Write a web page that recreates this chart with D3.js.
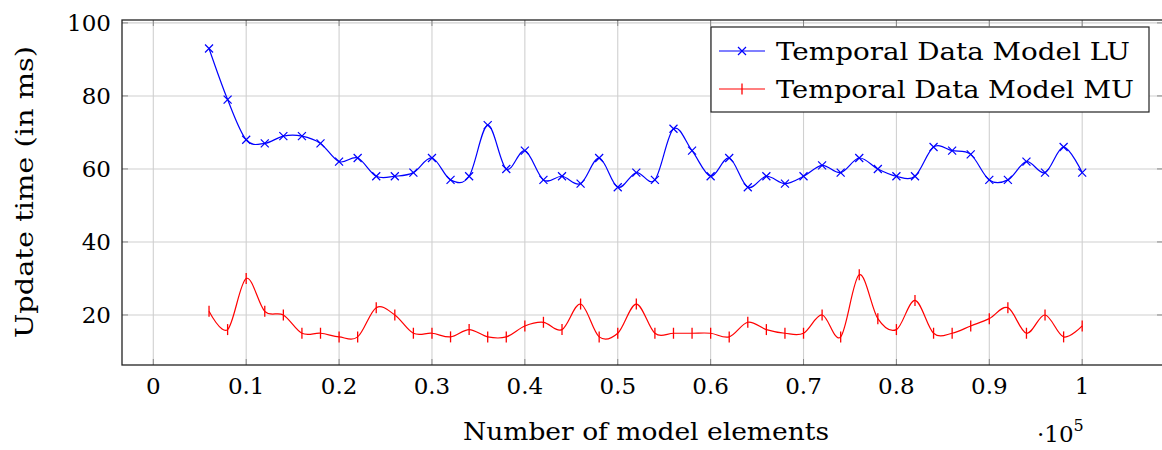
<!DOCTYPE html>
<html><head><meta charset="utf-8">
<script src="https://cdn.jsdelivr.net/npm/d3@7"></script>
<style>body{margin:0;background:#fff}svg{display:block}text{font-family:"DejaVu Serif","Liberation Serif",serif;fill:#000}</style>
</head><body>
<svg id="c" width="1162" height="450"></svg>
<script>
const xValues = [0.06,0.08,0.10,0.12,0.14,0.16,0.18,0.20,0.22,0.24,0.26,0.28,0.30,0.32,0.34,0.36,0.38,0.40,0.42,0.44,0.46,0.48,0.50,0.52,0.54,0.56,0.58,0.60,0.62,0.64,0.66,0.68,0.70,0.72,0.74,0.76,0.78,0.80,0.82,0.84,0.86,0.88,0.90,0.92,0.94,0.96,0.98,1.00];
const luValues = [93,79,68,67,69,69,67,62,63,58,58,59,63,57,58,72,60,65,57,58,56,63,55,59,57,71,65,58,63,55,58,56,58,61,59,63,60,58,58,66,65,64,57,57,62,59,66,59];
const muValues = [21,16,30,21,20,15,15,14,14,22,20,15,15,14,16,14,14,17,18,16,23,14,15,23,15,15,15,15,14,18,16,15,15,20,14,31,19,16,24,15,15,17,19,22,15,20,14,17];
const xTicks = [0,0.1,0.2,0.3,0.4,0.5,0.6,0.7,0.8,0.9,1];
const yTicks = [20,40,60,80,100];
const seriesNames = ["Temporal Data Model LU","Temporal Data Model MU"];

const svg = d3.select("#c");
const L=122, R=1163, T=20, B=365;
const x = d3.scaleLinear().domain([-0.0337, 1.087]).range([L, R]);
const y = d3.scaleLinear().domain([6.3, 100.8]).range([B, T]);

// grid
const g = svg.append("g");
g.selectAll(".gx").data(xTicks).join("line").attr("x1",d=>x(d)).attr("x2",d=>x(d)).attr("y1",T).attr("y2",B).attr("stroke","#d0d0d0").attr("stroke-width",1.1);
g.selectAll(".gy").data(yTicks).join("line").attr("y1",d=>y(d)).attr("y2",d=>y(d)).attr("x1",L).attr("x2",R).attr("stroke","#d0d0d0").attr("stroke-width",1.1);
// inner ticks
const tk=6;
g.selectAll(".tx1").data(xTicks).join("line").attr("x1",d=>x(d)).attr("x2",d=>x(d)).attr("y1",B).attr("y2",B-tk).attr("stroke","#888").attr("stroke-width",1);
g.selectAll(".tx2").data(xTicks).join("line").attr("x1",d=>x(d)).attr("x2",d=>x(d)).attr("y1",T).attr("y2",T+tk).attr("stroke","#888").attr("stroke-width",1);
g.selectAll(".ty1").data(yTicks).join("line").attr("y1",d=>y(d)).attr("y2",d=>y(d)).attr("x1",L).attr("x2",L+tk).attr("stroke","#888").attr("stroke-width",1);
g.selectAll(".ty2").data(yTicks).join("line").attr("y1",d=>y(d)).attr("y2",d=>y(d)).attr("x1",R).attr("x2",R-tk).attr("stroke","#888").attr("stroke-width",1);

// box
svg.append("rect").attr("x",L).attr("y",T).attr("width",R-L).attr("height",B-T).attr("fill","none").attr("stroke","#222").attr("stroke-width",1.3);

// tick labels
svg.selectAll(".xl").data(xTicks).join("text").attr("x",d=>x(d)).attr("y",B+29).attr("text-anchor","middle").attr("font-size",23).text(d=>d3.format("")(d));
svg.selectAll(".yl").data(yTicks).join("text").attr("x",L-11).attr("y",d=>y(d)+8).attr("text-anchor","end").attr("font-size",23).text(d=>d);

// axis labels
svg.append("text").attr("x",646).attr("y",440).attr("text-anchor","middle").attr("font-size",24)
  .attr("textLength",366).attr("lengthAdjust","spacingAndGlyphs").text("Number of model elements");
const ex = svg.append("text").attr("x",1037).attr("y",442).attr("font-size",23);
ex.append("tspan").text("·10");
ex.append("tspan").attr("dy",-11).attr("font-size",16).text("5");
svg.append("text").attr("transform","translate(33,192) rotate(-90)").attr("text-anchor","middle").attr("font-size",24)
  .attr("textLength",292).attr("lengthAdjust","spacingAndGlyphs").text("Update time (in ms)");

// lines
const lineGen = d3.line().x(d=>x(d[0])).y(d=>y(d[1])).curve(d3.curveCardinal.tension(0));
const lu = xValues.map((v,i)=>[v,luValues[i]]);
const mu = xValues.map((v,i)=>[v,muValues[i]]);
svg.append("path").attr("d",lineGen(lu)).attr("fill","none").attr("stroke","#0000ff").attr("stroke-width",1.2);
svg.append("path").attr("d",lineGen(mu)).attr("fill","none").attr("stroke","#ff0000").attr("stroke-width",1.2);
const s=4;
function cross(sel, cx, cy){
  sel.append("path").attr("d",`M${cx-s},${cy-s}L${cx+s},${cy+s}M${cx-s},${cy+s}L${cx+s},${cy-s}`).attr("stroke","#0000ff").attr("stroke-width",1.2).attr("fill","none");
}
function bar(sel, cx, cy){
  sel.append("path").attr("d",`M${cx},${cy-5.5}L${cx},${cy+5.5}`).attr("stroke","#ff0000").attr("stroke-width",1.3).attr("fill","none");
}
const mg = svg.append("g");
lu.forEach(d=>cross(mg, x(d[0]), y(d[1])));
mu.forEach(d=>bar(mg, x(d[0]), y(d[1])));

// legend
const lg = svg.append("g");
lg.append("rect").attr("x",711).attr("y",27).attr("width",438).attr("height",85).attr("fill","#fff").attr("stroke","#222").attr("stroke-width",1.2);
const rows=[51,89];
lg.append("line").attr("x1",719).attr("x2",765).attr("y1",rows[0]).attr("y2",rows[0]).attr("stroke","#0000ff").attr("stroke-width",1.2);
cross(lg,742,rows[0]);
lg.append("line").attr("x1",719).attr("x2",765).attr("y1",rows[1]).attr("y2",rows[1]).attr("stroke","#ff0000").attr("stroke-width",1.2);
bar(lg,742,rows[1]);
const legW=[354,358];
seriesNames.forEach((n,i)=>lg.append("text").attr("x",776).attr("y",rows[i]+9).attr("font-size",24)
  .attr("textLength",legW[i]).attr("lengthAdjust","spacingAndGlyphs").text(n));
</script>
</body></html>
